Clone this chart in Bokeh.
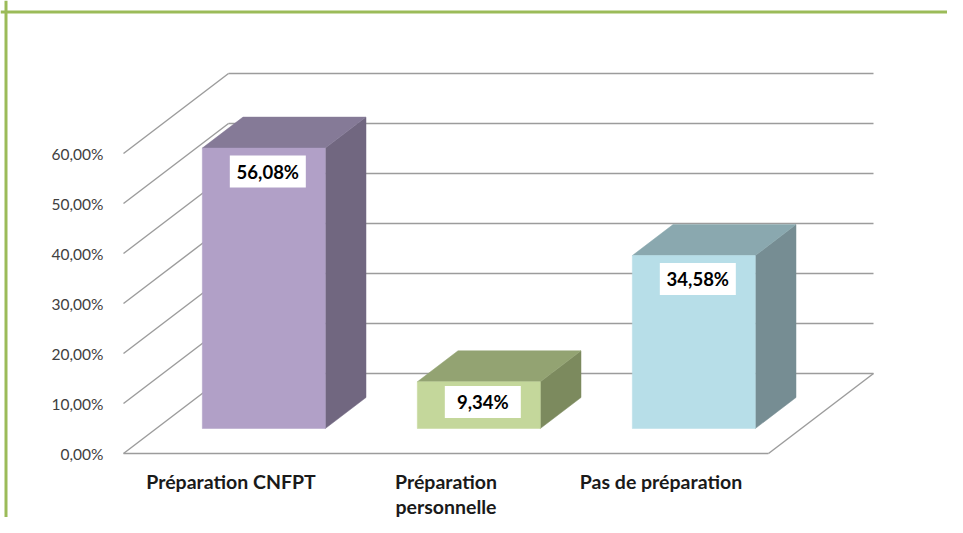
from bokeh.plotting import figure
from bokeh.models import Range1d, Span
from bokeh.core.properties import value
from bokeh.embed import file_html
from bokeh.resources import INLINE

# ---------------- data ----------------
categories = ["Préparation CNFPT", "Préparation\npersonnelle", "Pas de préparation"]
values = [56.08, 9.34, 34.58]
value_labels = ["56,08%", "9,34%", "34,58%"]
y_ticks = [0, 10, 20, 30, 40, 50, 60]
y_tick_labels = ["0,00%", "10,00%", "20,00%", "30,00%", "40,00%", "50,00%", "60,00%"]
front_colors = ["#B1A0C7", "#C4D79B", "#B7DEE8"]
top_colors = ["#857A97", "#93A372", "#8AA8AF"]
side_colors = ["#716780", "#7C8A5E", "#768D93"]

# ---------------- geometry ----------------
W, H = 947, 517
PXX = 215.0          # pixels per category
PXY = 5.0            # pixels per percent
x0 = -230.5 / PXX
x1 = x0 + W / PXX
y1 = 453 / PXY
y0 = y1 - H / PXY
DX = 105.0 / PXX     # full depth offset in x units
DY = 80.0 / PXY      # full depth offset in y units
dF, dB = 0.3125, 0.70
hw = 0.286
n = len(values)
xl, xr = -0.5, n - 0.5

p = figure(width=W, height=H, output_backend="svg", toolbar_location=None,
           x_range=Range1d(x0, x1), y_range=Range1d(y0, y1),
           min_border=0, min_border_left=0, min_border_right=0,
           min_border_top=0, min_border_bottom=0)
p.axis.visible = False
p.grid.visible = False
p.outline_line_color = None
p.background_fill_color = "white"
p.border_fill_color = "white"

# ---------------- walls / grid ----------------
gx, gy = [], []
for t in y_ticks:
    gx.append([xl, xl + DX]); gy.append([t, t + DY])
    gx.append([xl + DX, xr + DX]); gy.append([t + DY, t + DY])
gx.append([xl, xr]); gy.append([0, 0])
gx.append([xr, xr + DX]); gy.append([0, DY])
p.multi_line(gx, gy, line_color="#9C9C9C", line_width=1.4)

# ---------------- bars ----------------
fx, fy, tx, ty, sx, sy = [], [], [], [], [], []
for i, v in enumerate(values):
    a, b = i - hw, i + hw
    fx.append([a + dF * DX, b + dF * DX, b + dF * DX, a + dF * DX])
    fy.append([dF * DY, dF * DY, v + dF * DY, v + dF * DY])
    tx.append([a + dF * DX, b + dF * DX, b + dB * DX, a + dB * DX])
    ty.append([v + dF * DY, v + dF * DY, v + dB * DY, v + dB * DY])
    sx.append([b + dF * DX, b + dB * DX, b + dB * DX, b + dF * DX])
    sy.append([dF * DY, dB * DY, v + dB * DY, v + dF * DY])
p.patches(sx, sy, fill_color=side_colors, line_color=side_colors, line_width=0.5)
p.patches(tx, ty, fill_color=top_colors, line_color=top_colors, line_width=0.5)
p.patches(fx, fy, fill_color=front_colors, line_color=front_colors, line_width=0.5)

# ---------------- data labels ----------------
lx = [i + dF * DX + 4 / PXX for i in range(n)]
ly = [v + dF * DY - min(4.7, 0.43 * v) for v in values]
p.rect(lx, ly, width=76, height=32, width_units="screen", height_units="screen",
       fill_color="white", line_color=None)
p.text(lx, ly, text=value_labels, text_align="center", text_baseline="middle",
       text_font=value("Lato"), text_font_style="bold", text_font_size="18.5px",
       text_color="#000000")

# ---------------- y tick labels ----------------
p.text([xl - 20 / PXX] * len(y_ticks), y_ticks, text=y_tick_labels,
       text_align="right", text_baseline="middle",
       text_font=value("Lato"), text_font_size="15.5px", text_color="#404040")

# ---------------- category labels ----------------
cx, cy, ct = [], [], []
for i, c in enumerate(categories):
    for k, line in enumerate(c.split("\n")):
        cx.append(i)
        cy.append(-(481 - 453) / PXY - k * 25 / PXY)
        ct.append(line)
p.text(cx, cy, text=ct, text_align="center", text_baseline="middle",
       text_font=value("Lato"), text_font_style="bold", text_font_size="19.5px",
       text_color="#1A1A1A")

# ---------------- green chart border ----------------
p.add_layout(Span(location=y1 - 11.5 / PXY, dimension="width",
                  line_color="#9BBB59", line_width=3))
p.add_layout(Span(location=x0 + 5.5 / PXX, dimension="height",
                  line_color="#9BBB59", line_width=3))

open("out.html", "w").write(file_html(p, INLINE))
